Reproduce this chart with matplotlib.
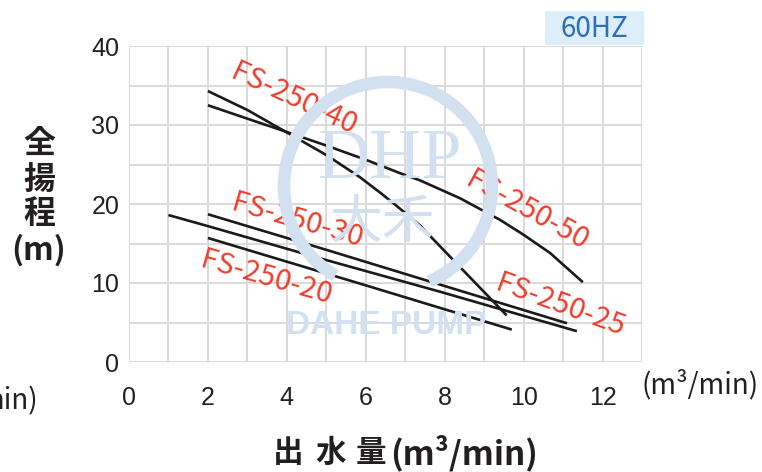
import matplotlib
matplotlib.use("Agg")
import matplotlib.pyplot as plt
from matplotlib.patches import Arc, Rectangle

# pump curves (flow m3/min, head m)
q_50 = [2.0, 3.0, 3.95, 5.0, 6.0, 6.87, 7.37, 8.4, 9.4, 10.0, 10.67, 11.5]
h_50 = [32.5, 30.8, 29.2, 27.4, 25.6, 23.9, 23.0, 20.7, 18.0, 16.1, 13.8, 10.1]

q_40 = [2.0, 3.0, 3.95, 5.0, 5.85, 6.4, 6.87, 7.37, 8.47, 9.57]
h_40 = [34.3, 31.9, 29.2, 26.2, 23.4, 21.3, 19.4, 17.3, 11.6, 5.9]

q_30 = [2.0, 5.0, 7.88, 11.1]
h_30 = [18.7, 14.2, 9.8, 4.9]

q_25 = [1.0, 2.0, 5.0, 7.88, 11.35]
h_25 = [18.6, 17.2, 12.9, 8.9, 3.9]

q_20 = [2.0, 6.0, 9.7]
h_20 = [15.7, 9.7, 4.1]

# label text, position (data) and angle
labels = ["FS-250-40", "FS-250-50", "FS-250-30", "FS-250-20", "FS-250-25"]
label_xy = [(4.18, 33.2), (10.09, 19.2), (4.25, 17.9), (3.48, 10.7), (10.92, 7.2)]
label_rot = [-25, -29, -16, -16, -20]

x_ticks = [0, 2, 4, 6, 8, 10, 12]
y_ticks = [0, 10, 20, 30, 40]

W, H = 762, 472
CJK = ["Noto Sans CJK JP", "DejaVu Sans"]
RED = "#ef3e2d"
WM = "#d2e0f0"
INK = "#231f20"


def fx(px):
    return px / W


def fy(py):
    return 1 - py / H


fig = plt.figure(figsize=(W / 100, H / 100), dpi=100)
ax = fig.add_axes([fx(129), fy(362), (642 - 129) / W, (362 - 46) / H])

ax.set_xlim(0, 13)
ax.set_ylim(0, 40)
ax.set_xticks(x_ticks)
ax.set_xticks(range(0, 14), minor=True)
ax.set_yticks(y_ticks)
ax.set_yticks(range(0, 41, 5), minor=True)
ax.grid(which="both", color="#d9d9d9", linewidth=1.4, zorder=0)
ax.set_axisbelow(True)
for s in ax.spines.values():
    s.set_visible(False)
ax.tick_params(which="both", length=0)
ax.tick_params(axis="x", pad=17, labelsize=18, labelcolor=INK)
ax.tick_params(axis="y", pad=7, labelsize=18, labelcolor=INK)
for t in ax.get_xticklabels() + ax.get_yticklabels():
    t.set_fontfamily("Liberation Sans")

# watermark (faint logo)
ring = Arc((fx(388), fy(186)), 2 * 104 / W, 2 * 104 / H, theta1=-75, theta2=250,
           transform=fig.transFigure, color=WM, lw=9, zorder=1)
fig.add_artist(ring)
fig.text(fx(390), fy(160), "DHP", fontfamily="Liberation Serif", fontsize=52,
         color=WM, ha="center", va="center", zorder=1)
fig.text(fx(382), fy(222), "大禾", fontfamily=CJK, fontsize=38,
         color=WM, ha="center", va="center", zorder=1)
fig.text(fx(386), fy(325), "DAHE PUMP", fontfamily="Liberation Sans", fontsize=24,
         fontweight="bold", color=WM, ha="center", va="center", zorder=1)

# curves
for q, h in [(q_50, h_50), (q_40, h_40), (q_30, h_30), (q_25, h_25), (q_20, h_20)]:
    ax.plot(q, h, color="#1a1a1a", lw=1.9, zorder=3, solid_capstyle="butt")

for txt, (x, y), r in zip(labels, label_xy, label_rot):
    ax.text(x, y, txt, color=RED, fontsize=21, fontfamily=CJK, rotation=r,
            rotation_mode="anchor", ha="center", va="center", zorder=4)

# 60HZ tag
fig.add_artist(Rectangle((fx(545), fy(45)), (644 - 545) / W, 34 / H,
                         transform=fig.transFigure, color="#dbeefa", lw=0))
fig.text(fx(594), fy(29), "60HZ", fontfamily=CJK, fontsize=20, color="#2f6db5",
         ha="center", va="center")

# axis titles
for ch, py in zip(["全", "揚", "程", "(m)"], [144, 180, 214, 250]):
    fig.text(fx(39), fy(py), ch, fontfamily=CJK, fontsize=23, fontweight="bold",
             color=INK, ha="center", va="center")

fig.text(fx(700), fy(385), "(m³/min)", fontfamily=CJK, fontsize=20,
         color=INK, ha="center", va="center")
# remnant of a unit label cut by the left edge in the reference
fig.text(fx(38), fy(401), "min)", fontfamily=CJK, fontsize=20,
         color=INK, ha="right", va="center")

for ch, px in zip(["出", "水", "量"], [288, 331, 371]):
    fig.text(fx(px), fy(453), ch, fontfamily=CJK, fontsize=22, fontweight="bold",
             color=INK, ha="center", va="center")
fig.text(fx(390), fy(453), "(m³/min)", fontfamily=CJK, fontsize=24, fontweight="bold",
         color=INK, ha="left", va="center")

fig.savefig("out.png", dpi=100)
